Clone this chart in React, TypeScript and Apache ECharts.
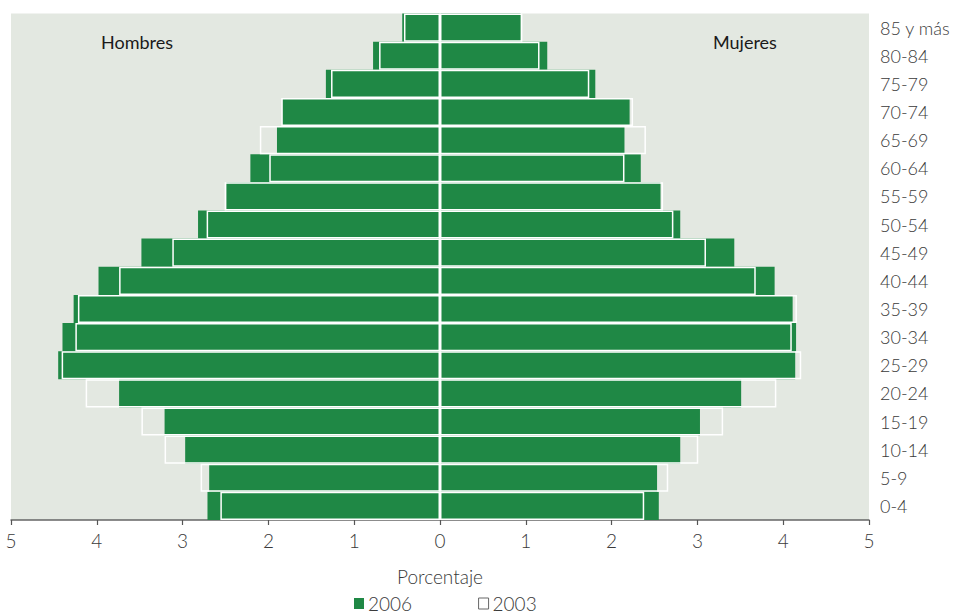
import React, { useEffect, useRef } from "react";
import * as echarts from "echarts";

const categories = [
  "0-4", "5-9", "10-14", "15-19", "20-24", "25-29", "30-34", "35-39", "40-44",
  "45-49", "50-54", "55-59", "60-64", "65-69", "70-74", "75-79", "80-84", "85 y más",
];

const hombres2006 = [2.71, 2.69, 2.97, 3.21, 3.74, 4.45, 4.40, 4.27, 3.98, 3.48, 2.82, 2.49, 2.21, 1.90, 1.84, 1.33, 0.78, 0.44];
const hombres2003 = [2.56, 2.79, 3.21, 3.48, 4.13, 4.41, 4.25, 4.22, 3.74, 3.12, 2.72, 2.51, 1.99, 2.10, 1.85, 1.27, 0.71, 0.42];
const mujeres2006 = [2.55, 2.53, 2.80, 3.03, 3.51, 4.14, 4.15, 4.11, 3.90, 3.43, 2.80, 2.57, 2.34, 2.15, 2.21, 1.81, 1.25, 0.94];
const mujeres2003 = [2.38, 2.66, 3.01, 3.30, 3.92, 4.21, 4.10, 4.16, 3.68, 3.10, 2.72, 2.60, 2.15, 2.40, 2.25, 1.74, 1.16, 0.96];

const xTicks = [-5, 5];

const GREEN = "#1f8845";
const BG = "#e3e8e1";
const TEXT = "#3a3a3a";
const FONT = "Lato, 'Noto Sans', sans-serif";

export default function App() {
  const ref = useRef<HTMLDivElement>(null);

  useEffect(() => {
    if (!ref.current) return;
    const chart = echarts.init(ref.current, undefined, { renderer: "svg" });

    const outline = {
      color: "rgba(0,0,0,0)",
      borderColor: "#ffffff",
      borderWidth: 1.5,
    };

    chart.setOption({
      animation: false,
      grid: {
        left: 11,
        right: 87,
        top: 13.5,
        bottom: 94,
        show: true,
        backgroundColor: BG,
        borderWidth: 0,
      },
      legend: {
        left: 354,
        top: 594,
        padding: 0,
        itemWidth: 10,
        itemHeight: 11,
        itemGap: 66,
        textStyle: {
          fontSize: 19,
          lineHeight: 19,
          color: TEXT,
          fontFamily: FONT,
          fontWeight: 300,
          padding: [0, 0, 0, -1],
        },
        data: [
          { name: "2006", icon: "rect", itemStyle: { color: GREEN } },
          {
            name: "2003",
            icon: "rect",
            itemStyle: { color: "#ffffff", borderColor: "#666666", borderWidth: 1 },
          },
        ],
      },
      xAxis: {
        type: "value",
        min: xTicks[0],
        max: xTicks[1],
        interval: 1,
        name: "Porcentaje",
        nameLocation: "middle",
        nameGap: 47,
        nameTextStyle: { fontSize: 19, color: TEXT, fontFamily: FONT, fontWeight: 300 },
        axisLine: { show: true, onZero: false, lineStyle: { color: "#666666", width: 1.5 } },
        axisTick: { show: true, length: 5, lineStyle: { color: "#555555", width: 1.2 } },
        axisLabel: {
          margin: 11,
          fontSize: 19,
          color: TEXT,
          fontFamily: FONT,
          fontWeight: 300,
          formatter: (v: number) => String(Math.abs(v)),
        },
        splitLine: { show: false },
      },
      yAxis: {
        type: "category",
        position: "right",
        data: categories,
        axisLine: { show: false },
        axisTick: { show: false },
        axisLabel: {
          margin: 11,
          fontSize: 18,
          color: TEXT,
          fontFamily: FONT,
          fontWeight: 300,
        },
        splitLine: { show: false },
      },
      graphic: [
        {
          type: "text",
          x: 101,
          y: 41.5,
          style: {
            text: "Hombres",
            fontSize: 18,
            fontFamily: FONT,
            fill: "#1a1a1a",
            verticalAlign: "middle",
          },
        },
        {
          type: "text",
          x: 713,
          y: 41.5,
          style: {
            text: "Mujeres",
            fontSize: 18,
            fontFamily: FONT,
            fill: "#1a1a1a",
            verticalAlign: "middle",
          },
        },
      ],
      series: [
        {
          name: "2006",
          type: "bar",
          data: hombres2006.map((v) => -v),
          barGap: "-100%",
          barCategoryGap: "0%",
          itemStyle: { color: GREEN },
        },
        {
          name: "2006",
          type: "bar",
          data: mujeres2006,
          barGap: "-100%",
          barCategoryGap: "0%",
          itemStyle: { color: GREEN },
        },
        {
          name: "2003",
          type: "bar",
          data: hombres2003.map((v) => -v),
          barGap: "-100%",
          barCategoryGap: "0%",
          itemStyle: outline,
        },
        {
          name: "2003",
          type: "bar",
          data: mujeres2003,
          barGap: "-100%",
          barCategoryGap: "0%",
          itemStyle: outline,
          markLine: {
            silent: true,
            symbol: "none",
            label: { show: false },
            lineStyle: { color: "#ffffff", width: 1.5, type: "solid" },
            data: [{ xAxis: 0 }],
          },
        },
      ],
    });

    return () => chart.dispose();
  }, []);

  return (
    <div
      ref={ref}
      style={{ position: "absolute", left: 0, top: 0, width: 956, height: 614 }}
    />
  );
}
